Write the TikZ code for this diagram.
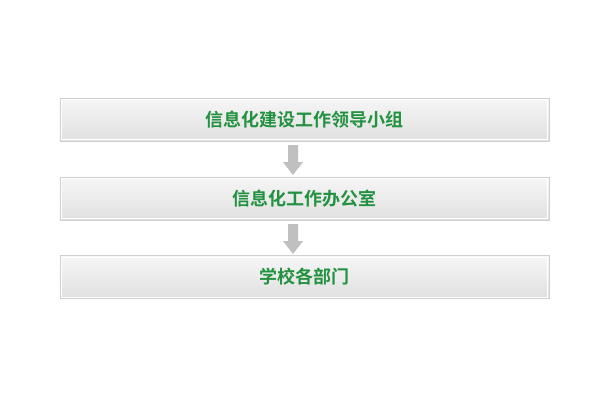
\documentclass[tikz,border=0pt]{standalone}
\usepackage{fontspec}
\newfontfamily\cjk{Noto Sans CJK SC}[BoldFont={Noto Sans CJK SC Bold}]
\definecolor{txtgreen}{RGB}{34,145,64}
\definecolor{boxtop}{RGB}{246,246,246}
\definecolor{boxbot}{RGB}{224,224,224}
\definecolor{boxline}{RGB}{208,208,208}
\definecolor{arrowgray}{RGB}{192,192,192}
\tikzset{
  levelbox/.style={draw=boxline, line width=0.8bp, top color=boxtop, bottom color=boxbot,
    minimum width=489bp, minimum height=43bp, inner sep=0pt, outer sep=0pt,
    font=\cjk\bfseries\fontsize{18bp}{20bp}\selectfont, text=txtgreen},
  innerline/.style={draw=white, line width=1bp},
  flowarrow/.style={fill=arrowgray, draw=none}
}
\begin{document}
\begin{tikzpicture}[x=1bp,y=-1bp]
\useasboundingbox (0,0) rectangle (600,400);
\fill[white] (0,0) rectangle (600,400);
\node[levelbox] (b1) at (304.5,119.5) {信息化建设工作领导小组};
\node[levelbox] (b2) at (304.5,198.5) {信息化工作办公室};
\node[levelbox] (b3) at (304.5,277) {学校各部门};
\foreach \n in {b1,b2,b3}{
  \draw[innerline] ([shift={(1.5bp,1.5bp)}]\n.south west) rectangle ([shift={(-1.5bp,-1.5bp)}]\n.north east);
}
\coordinate (a1s) at (293,145);
\coordinate (a2s) at (293,224);
\foreach \s in {a1s,a2s}{
  \fill[flowarrow] (\s) ++(-5,0) -- ++(0,17) -- ++(-5,0) -- ++(10,13) -- ++(10,-13) -- ++(-5,0) -- ++(0,-17) -- cycle;
}
\end{tikzpicture}
\end{document}
